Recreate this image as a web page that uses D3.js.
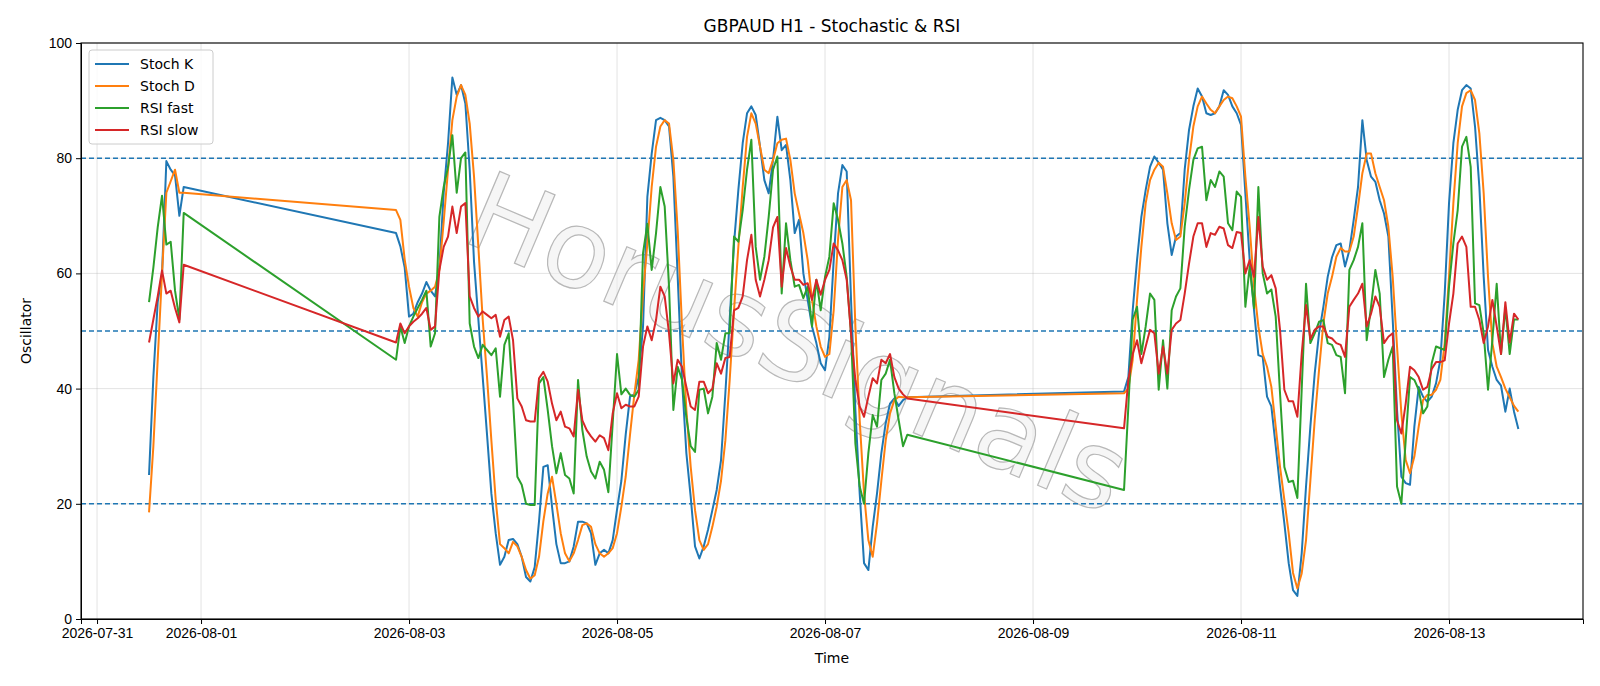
<!DOCTYPE html>
<html lang="en">
<head>
<meta charset="utf-8">
<title>GBPAUD H1 - Stochastic & RSI</title>
<script src="https://cdn.jsdelivr.net/npm/d3@7"></script>
<style>
  body { margin: 0; background: #fff; }
  svg { font-family: "DejaVu Sans", sans-serif; }
  .axis text { font-size: 14px; fill: #000; }
  .axis path, .axis line { stroke: #000; }
  .grid line { stroke: #b0b0b0; stroke-opacity: 0.35; }
</style>
</head>
<body>
<svg id="chart" width="1600" height="686"></svg>
<script>
// hourly bars, three runs of data (weekend gaps get joined by straight lines)
var segments = [["2026-07-31T12:00:00Z", 9], ["2026-08-02T21:00:00Z", 119], ["2026-08-09T21:00:00Z", 92]];

var stochK = [25,42,55,60,79.5,78,77,70,75,
  67,64.7,61,52.5,53,55,56.5,58.5,57,56,61,74,82.6,94,91,92.7,89.5,78,62,52,42,32,21.8,14.9,9.4,10.8,13.7,13.9,13,10.8,7.3,6.5,9,17,26.4,26.7,19.5,13,9.7,9.7,10,12.6,16.9,16.9,16.6,14.9,9.4,11.4,12,11.4,13.7,19,24,32,38.6,39,42,
  50.8,73.3,80.8,86.6,87,86.6,85.5,76.8,59.4,41.5,28.8,21.2,12.6,10.5,12.6,15.5,18.9,22.4,27.6,39.2,52,65.2,74.5,82.6,87.8,89,87.5,82,76.2,73.9,79.7,87.2,81.4,82.3,76.2,67,69.3,60,55.4,50.8,47.9,44.4,43.2,49,62.3,73.9,78.8,77.7,55.4,36.3,21.8,9.7,8.5,16,21.8,28.8,34,37.4,38.3,37,38,38.5,
  39.5,42,53.6,62.3,69.8,74.5,78.5,80.3,79.2,78,68.7,63.2,66.4,67,78,84.9,89,92.1,90.7,87.8,87.5,87.8,89,91.8,91,89,87.8,85.8,73.9,62.3,53.6,45.8,45.5,38.6,36.9,30,23,16.6,9.7,5,4,11.4,23,33.4,42.6,49.6,54.2,59.4,62.8,64.9,65.2,61.2,64,69.3,75,86.6,79.7,76.8,75.9,72.7,70.4,66.4,52,36.3,24.7,23.6,23.3,33.4,40.3,38.6,37.7,38.6,40.9,45,56.5,72.2,82.6,88.4,91.8,92.7,92.1,85.5,75,59.4,46.7,43.8,41.5,40.5,36,40,36,33];

var stochD = [18.5,30,45,60,74,76,78,74,74,
  71,69.3,62.4,57.7,54,52.5,55,56.5,57,57.7,60.6,69,78,86.6,90.7,92.7,91,86,76.8,64.6,52,42,31,20.7,13,12.3,11.4,13.4,12.6,10.8,8.5,7,7.6,10.8,17,21.8,24.7,20,14.9,11.4,10,11.4,13.7,16.3,16.6,16,13,11.4,10.8,11.4,12.3,14.9,19.5,24.7,32,39,45,
  56.5,65.2,75,82,85.5,86.6,86,79.7,67.5,50.8,36.3,26.4,18.9,13.7,12,13,16,19.5,24,31,41.5,53.6,64.6,75,83.7,87.8,86,82,78,77.4,79.7,82.6,83.2,83.4,79.7,73.9,70.4,67,62.3,55.4,50.8,47.3,45.5,46,53.6,65.8,75,76.2,72.7,50.8,34.5,21.8,13.7,10.8,16.6,24,31,35.7,38,38.6,38.5,38.5,
  39.2,40,45,55.4,64.6,72.2,76.2,78,79.2,78.5,73.9,68.7,65.8,66.4,72.2,79.7,85.5,89,90.7,89.5,88.4,87.8,89,90.1,90.7,90.4,89,87.2,76.8,68.1,57.7,50.8,46,43.8,40.3,33.4,26.4,20.7,14.9,8,5.3,7.9,13.7,24,34.5,43.2,51.3,56.5,59.4,62.9,64.4,63.8,63.8,66.4,71.6,77.4,80.8,80.8,77.4,75,72.7,68.1,59.4,47.3,35.7,27.6,25.3,28.2,33.4,38,38.9,38.9,39.8,41.5,47.9,59.4,72.2,82.6,89,91.3,91.8,90.1,84.3,73.9,59.4,47.9,43.8,42,40,38.5,37,36];

var rsiFast = [55,61,68,73.5,65,65.5,57,52,70.5,
  45,50.8,47.9,50.8,52.5,54,55.4,57,47.3,49.6,69.8,75,78.5,84,74,80,81,51.3,47.3,45.3,47.6,46.7,45.8,47,38.6,47.6,49.6,38,24.7,23.3,20,19.8,19.8,40.9,42,36.3,30,25.3,28.8,25,24.4,21.8,41.5,32.8,28.2,25.6,24.4,27.3,25.9,22,34,46,39,40,38.9,38.6,39.8,
  63.5,68.6,60.6,67,75,71.6,57.7,36.3,43.8,41.5,35,30,29,39.8,40,35.7,38.6,47.9,45,49.6,49.6,66.4,65.5,71,78,83.2,64.6,58.9,62.9,69.8,78,80.3,56.5,68.7,62.3,57.7,58,55.7,57.7,50.8,58.9,53.6,59.4,62.9,72.2,69.3,65.2,59.4,49.6,30.5,23,20,28.8,35.4,33.4,41.5,42.6,45,39.2,34.5,30,32,
  22.4,36.9,52,54.2,46,50.8,56.5,55.4,39.8,48.4,40,53.6,56,57.4,68.1,74.5,79.7,81.7,82,72.7,76.2,75,77.7,76.8,68.7,67.5,74.2,73.3,54.2,61.2,54,75,60,56.5,57.2,52.5,39.2,26.4,23.8,24,21,39.8,58.2,47.9,49.6,51.6,51.9,47.9,47.6,45.8,45.5,39.2,60.6,62.3,64.6,68.7,48.4,54.2,60.6,56.5,42,45,47.3,23,20,31,42,41.5,39.8,35.7,36.9,44.4,47.3,47,46.7,57.7,65.2,71,82,83.7,78.5,54.8,54.5,49.6,39.8,48.4,58.2,46,54,46,52,52];

var rsiSlow = [48,52,56,60.5,56.5,57,54,51.5,61.5,
  48,51.3,49.6,50.8,51.6,52.2,53,54,50.2,50.8,60.6,64.6,66.4,71.6,67,71.6,72.2,56,54,52.5,53.4,52.8,52.2,52.8,49,51.9,52.5,48.4,38.3,36.9,34.5,34.3,34.3,41.8,42.9,41.2,37.4,34.5,36,33.4,33.1,31.7,39.8,34.5,32.8,31.7,30.8,31.9,31.4,29.3,35.7,39.2,36.6,37.2,36.9,36.9,38.6,
  47.3,50.8,48.4,51.9,57.7,56,49.6,40.9,45,43.8,40.3,36.9,36.3,41.2,41.2,39.2,40,44.4,42.6,45.3,45.5,53.6,54,56,62.3,66.7,58.9,56,58.9,62.3,68,69.8,57.7,64.4,61.2,58.9,58.9,58,58.3,55.4,58.9,56.3,58.9,60.6,65.2,64,62.3,58.9,49.6,41.5,36.9,35.1,38.6,41.8,40.9,45,44.4,46,42,40,39,38.3,
  33.1,41.5,46,48.4,44.4,47.3,50.2,49.6,42.6,47.3,42.6,50.2,51.3,51.9,56.5,61.7,66.4,68.7,68.7,64.6,67,66.7,68.1,67.8,64.9,64.4,67.2,67,60,62.3,59.4,69.8,61.2,58.9,59.7,57.4,50.2,39.8,37.8,37.8,35.1,46,54.5,48.6,50.2,50.8,50.8,49,48.7,47.9,47.6,45.5,54.2,55.4,56.5,58.2,50.8,53,56,54.2,47.9,49,49.6,34.5,32.2,37.4,43.8,43.2,42,39.8,40.3,43.4,44.6,44.6,44.9,51.3,56.5,65.2,66.4,64.6,54.2,54.2,51.9,47.9,50.8,55.4,50.8,46,55,48,53,52];

var seriesNames = ["Stoch K", "Stoch D", "RSI fast", "RSI slow"];
var seriesColors = ["#1f77b4", "#ff7f0e", "#2ca02c", "#d62728"];
var levels = [20, 50, 80];
var yTicks = [0, 20, 40, 60, 80, 100];
var xTickDates = ["2026-07-31", "2026-08-01", "2026-08-03", "2026-08-05", "2026-08-07", "2026-08-09", "2026-08-11", "2026-08-13"];

var times = [];
segments.forEach(function(s) {
  var t0 = new Date(s[0]).getTime();
  for (var i = 0; i < s[1]; i++) times.push(new Date(t0 + i * 3600e3));
});

var margin = {left: 81, right: 17, top: 43, bottom: 67};
var W = 1600, H = 686;
var svg = d3.select("#chart");

var x = d3.scaleUtc()
  .domain([new Date("2026-07-30T20:18:00Z"), new Date("2026-08-14T06:55:00Z")])
  .range([margin.left, W - margin.right]);
var y = d3.scaleLinear().domain([0, 100]).range([H - margin.bottom, margin.top]);

var xTicks = xTickDates.map(function(d) { return new Date(d + "T00:00:00Z"); });

// grid
svg.append("g").attr("class", "grid")
  .selectAll("line.v").data(xTicks).enter().append("line")
  .attr("x1", function(d) { return x(d); }).attr("x2", function(d) { return x(d); })
  .attr("y1", margin.top).attr("y2", H - margin.bottom);
svg.append("g").attr("class", "grid")
  .selectAll("line.h").data(yTicks).enter().append("line")
  .attr("x1", margin.left).attr("x2", W - margin.right)
  .attr("y1", function(d) { return y(d); }).attr("y2", function(d) { return y(d); });

// watermark
svg.append("text")
  .attr("transform", "translate(795,350) rotate(23)")
  .attr("text-anchor", "middle")
  .attr("dominant-baseline", "middle")
  .style("font-family", "DejaVu Sans, sans-serif")
  .style("font-size", "108px")
  .style("fill", "#eeeeee").style("fill-opacity", 0.55)
  .style("stroke", "#b8b8b8").style("stroke-width", 1.2)
  .text("HorusSignals");

// level lines
svg.append("g").selectAll("line").data(levels).enter().append("line")
  .attr("x1", margin.left).attr("x2", W - margin.right)
  .attr("y1", function(d) { return y(d); }).attr("y2", function(d) { return y(d); })
  .attr("stroke", "#1f77b4").attr("stroke-width", 1.4).attr("stroke-dasharray", "5,3");

var allSeries = [stochK, stochD, rsiFast, rsiSlow];
var line = d3.line()
  .x(function(d, i) { return x(times[i]); })
  .y(function(d) { return y(d); });

svg.append("g").selectAll("path").data(allSeries).enter().append("path")
  .attr("d", line)
  .attr("fill", "none")
  .attr("stroke", function(d, i) { return seriesColors[i]; })
  .attr("stroke-width", 2)
  .attr("stroke-linejoin", "round");

// axes
svg.append("g").attr("class", "axis")
  .attr("transform", "translate(0," + (H - margin.bottom) + ")")
  .call(d3.axisBottom(x).tickValues(xTicks).tickFormat(d3.utcFormat("%Y-%m-%d")).tickSizeOuter(0).tickSize(5).tickPadding(4));
svg.append("g").attr("class", "axis")
  .attr("transform", "translate(" + margin.left + ",0)")
  .call(d3.axisLeft(y).tickValues(yTicks).tickSizeOuter(0).tickSize(5).tickPadding(4));

svg.append("rect")
  .attr("x", margin.left).attr("y", margin.top)
  .attr("width", W - margin.left - margin.right).attr("height", H - margin.top - margin.bottom)
  .attr("fill", "none").attr("stroke", "#000").attr("stroke-width", 1.1);

// titles
svg.append("text").attr("x", (margin.left + W - margin.right) / 2).attr("y", 32)
  .attr("text-anchor", "middle").style("font-size", "17px").text("GBPAUD H1 - Stochastic & RSI");
svg.append("text").attr("x", (margin.left + W - margin.right) / 2).attr("y", 663)
  .attr("text-anchor", "middle").style("font-size", "14px").text("Time");
svg.append("text").attr("transform", "translate(31," + ((margin.top + H - margin.bottom) / 2) + ") rotate(-90)")
  .attr("text-anchor", "middle").style("font-size", "14px").text("Oscillator");

// legend
var lg = svg.append("g").attr("transform", "translate(89,50)");
lg.append("rect").attr("width", 124).attr("height", 94).attr("rx", 3)
  .attr("fill", "#fff").attr("fill-opacity", 0.8).attr("stroke", "#ccc");
seriesNames.forEach(function(n, i) {
  var yy = 14 + i * 22;
  lg.append("line").attr("x1", 6).attr("x2", 40).attr("y1", yy).attr("y2", yy)
    .attr("stroke", seriesColors[i]).attr("stroke-width", 2);
  lg.append("text").attr("x", 51).attr("y", yy + 5).style("font-size", "14px").text(n);
});
</script>
</body>
</html>
